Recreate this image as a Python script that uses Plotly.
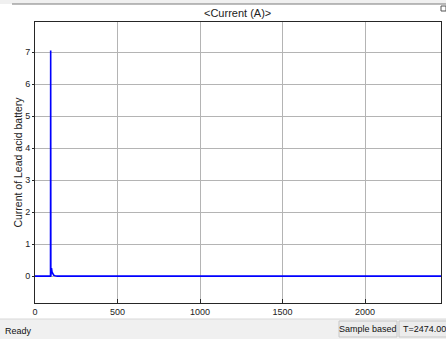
import plotly.graph_objects as go

# Data
time_s = [0, 94, 95, 96, 97, 98, 100, 103, 107, 113, 122, 135, 2474]
current_a = [0, 0, 7.05, 0.0, 0.78, 0.45, 0.25, 0.13, 0.07, 0.03, 0.01, 0, 0]
x_ticks = [0, 500, 1000, 1500, 2000]
y_ticks = [0, 1, 2, 3, 4, 5, 6, 7]

W, H = 446, 339
L, R, T, B = 35, 441, 22, 303


def px(x):
    return (x - L) / (R - L)


def py(y):
    return (B - y) / (B - T)


fig = go.Figure()
fig.add_trace(go.Scatter(x=time_s, y=current_a, mode="lines",
                         line=dict(color="#0000ff", width=1.6),
                         showlegend=False, hoverinfo="skip"))

font = dict(family="Liberation Sans, Arial, sans-serif", size=9, color="#222222")

shapes = []
# top chrome strip
shapes.append(dict(type="rect", xref="paper", yref="paper", x0=px(0), x1=px(446),
                   y0=py(0), y1=py(4), fillcolor="#f0f0f0", line=dict(width=0), layer="below"))
shapes.append(dict(type="line", xref="paper", yref="paper", x0=px(12), x1=px(446),
                   y0=py(4), y1=py(4), line=dict(color="#7a7a7a", width=1)))
shapes.append(dict(type="rect", xref="paper", yref="paper", x0=px(441), x1=px(446),
                   y0=py(6), y1=py(11), fillcolor="#ffffff", line=dict(color="#555555", width=1)))
# status bar
shapes.append(dict(type="rect", xref="paper", yref="paper", x0=px(0), x1=px(446),
                   y0=py(319), y1=py(339), fillcolor="#f0f0f0", line=dict(width=0)))
shapes.append(dict(type="line", xref="paper", yref="paper", x0=px(0), x1=px(446),
                   y0=py(319), y1=py(319), line=dict(color="#d8d8d8", width=1)))
shapes.append(dict(type="rect", xref="paper", yref="paper", x0=px(339), x1=px(397),
                   y0=py(321), y1=py(337), fillcolor="#ececec", line=dict(color="#c8c8c8", width=1)))
shapes.append(dict(type="rect", xref="paper", yref="paper", x0=px(399), x1=px(447),
                   y0=py(321), y1=py(337), fillcolor="#ececec", line=dict(color="#c8c8c8", width=1)))

annotations = [
    dict(text="&lt;Current (A)&gt;", xref="paper", yref="paper", x=px(237), y=py(13),
         showarrow=False, font=dict(family=font["family"], size=11, color="#222222"),
         xanchor="center", yanchor="middle"),
    dict(text="Ready", xref="paper", yref="paper", x=px(3), y=py(331),
         showarrow=False, font=dict(family=font["family"], size=9, color="#111111"),
         xanchor="left", yanchor="middle"),
    dict(text="Sample based", xref="paper", yref="paper", x=px(368), y=py(329),
         showarrow=False, font=dict(family=font["family"], size=9, color="#111111"),
         xanchor="center", yanchor="middle"),
    dict(text="T=2474.000", xref="paper", yref="paper", x=px(401), y=py(329),
         showarrow=False, font=dict(family=font["family"], size=9, color="#111111"),
         xanchor="left", yanchor="middle"),
]

fig.update_layout(
    width=W, height=H, autosize=False,
    margin=dict(l=L, r=W - R, t=T, b=H - B, pad=0),
    paper_bgcolor="#ffffff", plot_bgcolor="#ffffff",
    font=font,
    shapes=shapes, annotations=annotations,
    xaxis=dict(range=[0, 2460], tickvals=x_ticks, ticktext=[str(v) for v in x_ticks],
               showgrid=True, gridcolor="#b4b4b4", gridwidth=1,
               showline=True, linecolor="#262626", linewidth=1, mirror=True,
               ticks="inside", ticklen=4, tickcolor="#262626", zeroline=False,
               tickfont=font),
    yaxis=dict(range=[-0.84, 7.94], tickvals=y_ticks, ticktext=[str(v) for v in y_ticks],
               showgrid=True, gridcolor="#b4b4b4", gridwidth=1,
               showline=True, linecolor="#262626", linewidth=1, mirror=True,
               ticks="outside", ticklen=2, tickcolor="#262626", zeroline=False,
               tickfont=font, automargin=False,
               title=dict(text="Current of Lead acid battery", standoff=0,
                          font=dict(family=font["family"], size=10.5, color="#222222"))),
)

fig.write_html(
    "out.html",
    config={"displayModeBar": False},
    post_script="document.body.style.margin='0';document.body.style.padding='0';"
                "document.body.style.overflow='hidden';",
)
